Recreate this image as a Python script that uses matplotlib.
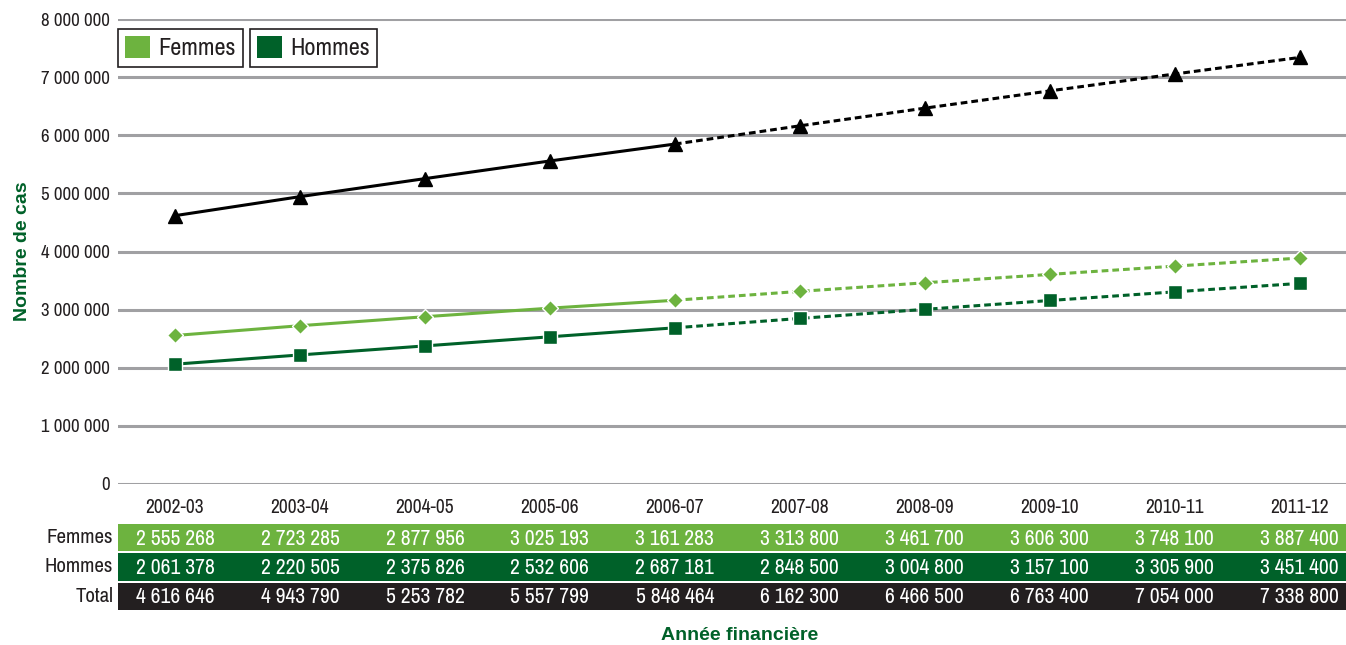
import matplotlib
matplotlib.use('Agg')
import matplotlib.pyplot as plt
from matplotlib.patches import Patch

plt.rcParams['font.family'] = ['Archivo Narrow', 'DejaVu Sans']

years = ['2002-03', '2003-04', '2004-05', '2005-06', '2006-07',
         '2007-08', '2008-09', '2009-10', '2010-11', '2011-12']
femmes = [2555268, 2723285, 2877956, 3025193, 3161283,
          3313800, 3461700, 3606300, 3748100, 3887400]
hommes = [2061378, 2220505, 2375826, 2532606, 2687181,
          2848500, 3004800, 3157100, 3305900, 3451400]
total = [4616646, 4943790, 5253782, 5557799, 5848464,
         6162300, 6466500, 6763400, 7054000, 7338800]
last_actual = 4  # 2006-07: later years are projections

light_green = '#6db33f'
dark_green = '#006129'
black = '#000000'
table_black = '#231f20'
grid_grey = '#a0a0a3'
bold_font = ['Liberation Sans', 'DejaVu Sans']

W, H = 1346, 645
fig = plt.figure(figsize=(W / 100, H / 100), dpi=100)

# main plot area in pixel terms
left_px, right_px, top_px, bottom_px = 118, 1346, 19, 484
ax = fig.add_axes([left_px / W, 1 - bottom_px / H,
                   (right_px - left_px) / W, (bottom_px - top_px) / H])
x = list(range(len(years)))
xlim = (-0.456, 9.37)
ax.set_xlim(*xlim)
ax.set_ylim(0, 8000000)


def fmt(v):
    return '{:,}'.format(v).replace(',', ' ')


yt = [i * 1000000 for i in range(9)]
ax.set_yticks(yt)
ax.set_yticklabels([fmt(v) for v in yt], fontsize=13.5, color='#231f20')
ax.tick_params(axis='y', length=0, pad=6)
ax.set_xticks(x)
ax.set_xticklabels(years, fontsize=14, color='#231f20')
ax.tick_params(axis='x', length=0, pad=10)
for s in ax.spines.values():
    s.set_visible(False)
ax.yaxis.grid(True, color=grid_grey, lw=2.2)
ax.set_axisbelow(True)


def draw_series(vals, color, marker, ms, edge):
    xs_a, ys_a = x[:last_actual + 1], vals[:last_actual + 1]
    xs_p, ys_p = x[last_actual:], vals[last_actual:]
    ax.plot(xs_a, ys_a, color=color, lw=2.2, solid_capstyle='butt', zorder=3)
    ax.plot(xs_p, ys_p, color=color, lw=2.2, ls=(0, (2.2, 1.3)), zorder=3)
    ax.plot(x, vals, ls='none', marker=marker, ms=ms, color=color,
            mec=edge, mew=1, zorder=4)


draw_series(total, black, '^', 9.5, black)
draw_series(femmes, light_green, 'D', 8, 'white')
draw_series(hommes, dark_green, 's', 9.5, 'white')

ax.set_ylabel('Nombre de cas', fontsize=14, fontweight='bold', color=dark_green,
              family=bold_font)
ax.yaxis.set_label_coords(-0.071, 0.5)

# two boxed legend entries
for label, color, bx in [('Femmes', light_green, 118), ('Hommes', dark_green, 250)]:
    leg = fig.legend(handles=[Patch(facecolor=color, edgecolor='none')],
                     labels=[label], loc='upper left',
                     bbox_to_anchor=(bx / W, 1 - 29 / H), fontsize=17.5,
                     fancybox=False, edgecolor='#231f20', framealpha=1,
                     handlelength=1.0, handleheight=1.0, handletextpad=0.35,
                     borderpad=0.3, borderaxespad=0)
    leg.get_frame().set_linewidth(1.2)
    for t in leg.get_texts():
        t.set_color('#231f20')

# data table under the plot
tbl_top, tbl_bottom = 523, 611
tax = fig.add_axes([left_px / W, 1 - tbl_bottom / H,
                    (right_px - left_px) / W, (tbl_bottom - tbl_top) / H])
tax.set_xlim(*xlim)
tax.set_ylim(0, 3)
tax.axis('off')
rows = [('Femmes', femmes, light_green), ('Hommes', hommes, dark_green),
        ('Total', total, table_black)]
for i, (name, vals, color) in enumerate(rows):
    y0 = 3 - i - 1
    tax.axhspan(y0 + 0.035, y0 + 0.965, color=color, lw=0)
    tax.text(-0.004, y0 + 0.5, name, transform=tax.get_yaxis_transform(),
             ha='right', va='center', fontsize=15, color='#231f20')
    for xi, v in zip(x, vals):
        tax.text(xi, y0 + 0.47, fmt(v), ha='center', va='center',
                 fontsize=15.5, color='white')

fig.text(740 / W, 1 - 635 / H, 'Année financière', ha='center', va='center',
         fontsize=14, fontweight='bold', color=dark_green, family=bold_font)

fig.savefig('out.png', dpi=100)
